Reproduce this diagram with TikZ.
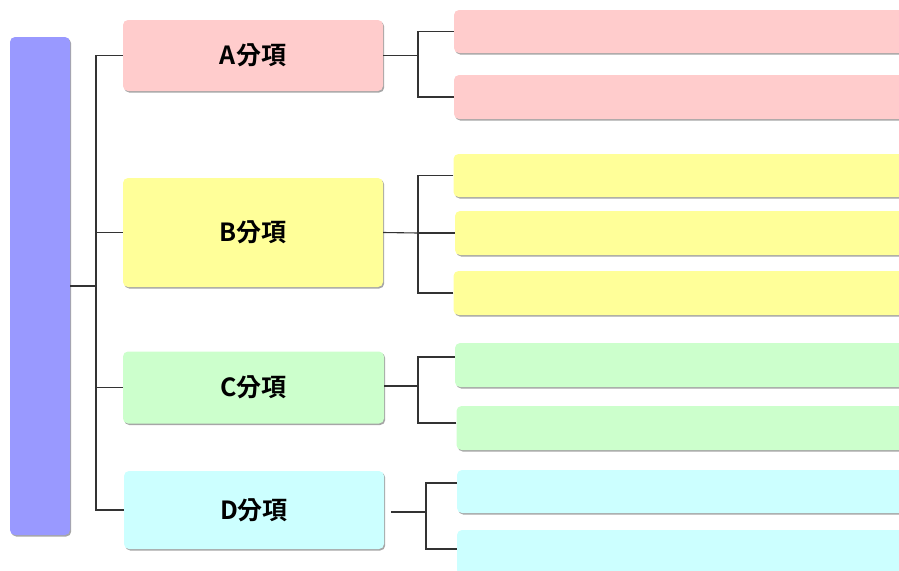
\documentclass[tikz,border=0pt]{standalone}
\usepackage{fontspec}
\newfontfamily\cjkfont{Noto Sans CJK TC}[BoldFont={Noto Sans CJK TC Bold}]
\usetikzlibrary{shadows}

\definecolor{rootblue}{HTML}{9999FF}
\definecolor{partred}{HTML}{FFCCCC}
\definecolor{partyellow}{HTML}{FFFF99}
\definecolor{partgreen}{HTML}{CCFFCC}
\definecolor{partcyan}{HTML}{CCFFFF}
\definecolor{wire}{HTML}{333333}

\tikzset{
    box/.style={rectangle, rounded corners=5pt, inner sep=0pt,
        drop shadow={shadow xshift=1.2pt, shadow yshift=-1.5pt, fill=black, opacity=0.35}},
    part/.style={box, minimum width=260pt, font=\cjkfont\bfseries\fontsize{25}{28}\selectfont},
    leaf/.style={box, minimum width=451pt, minimum height=44pt},
    link/.style={draw=wire, line width=1.1pt}
}

\begin{document}
\begin{tikzpicture}[x=1pt, y=-1pt]

            \useasboundingbox (0,0) rectangle (899,570);

            % Root bar
            \node[box, fill=rootblue, minimum width=60pt, minimum height=498pt] (root) at (40,286) {};

            % Parts
            \node[part, fill=partred, minimum height=71pt] (A) at (253,55.5) {A分項};
            \node[part, fill=partyellow, minimum height=109pt] (B) at (253,232.5) {B分項};
            \node[part, fill=partgreen, minimum height=72pt, minimum width=261pt] (C) at (253.5,387.5) {C分項};
            \node[part, fill=partcyan, minimum height=78pt] (D) at (254,510) {D分項};

            % Leaves
            \node[leaf, fill=partred, minimum height=43pt] (A1) at (679.5,31.5) {};
            \node[leaf, fill=partred] (A2) at (679.5,97) {};
            \node[leaf, fill=partyellow, minimum height=43pt] (B1) at (679,175.5) {};
            \node[leaf, fill=partyellow] (B2) at (680.5,233) {};
            \node[leaf, fill=partyellow] (B3) at (679,293) {};
            \node[leaf, fill=partgreen] (C1) at (680.5,365) {};
            \node[leaf, fill=partgreen] (C2) at (682,428) {};
            \node[leaf, fill=partcyan, minimum height=43pt] (D1) at (682.5,491.5) {};
            \node[leaf, fill=partcyan, minimum height=45pt] (D2) at (682.5,552.5) {};

            % Forks
            \coordinate (rootfork) at (96,286);
            \coordinate (Afork) at (418,55.5);
            \coordinate (Bfork) at (418,233);
            \coordinate (Cfork) at (418,386);
            \coordinate (Dfork) at (426,512);
            \coordinate (Dstub) at (391,512);

            % Root to parts
            \draw[link] (root.east) -- (rootfork);
            \foreach \p in {A,B,C,D}
                \draw[link] (\p.west) -| (rootfork);

            % Parts to leaves
            \draw[link] (A.east) -- (Afork);
            \draw[link] (A1.west) -| (Afork);
            \draw[link] (A2.west) -| (Afork);

            \draw[link] (B.east) -- (Bfork);
            \draw[link] (B1.west) -| (Bfork);
            \draw[link] (B2.west) -- (Bfork);
            \draw[link] (B3.west) -| (Bfork);

            \draw[link] (C.east |- Cfork) -- (Cfork);
            \draw[link] ([yshift=8pt]C1.west) -| (Cfork);
            \draw[link] ([yshift=5pt]C2.west) -| (Cfork);

            \draw[link] (Dstub) -- (Dfork);
            \draw[link] ([yshift=8.5pt]D1.west) -| (Dfork);
            \draw[link] ([yshift=3.5pt]D2.west) -| (Dfork);

\end{tikzpicture}
\end{document}
